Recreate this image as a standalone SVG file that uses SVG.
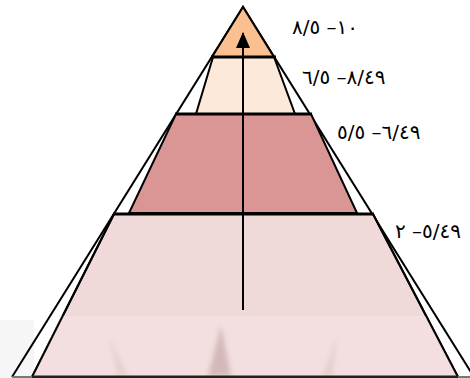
<svg xmlns="http://www.w3.org/2000/svg" width="470" height="378" viewBox="0 0 470 378">
<style>
.edge{stroke:#000;stroke-width:2;stroke-linejoin:miter}
.hline{stroke:#000;stroke-width:3}
.lbl{font-family:"DejaVu Sans",sans-serif;font-size:20px;fill:#000;direction:ltr;unicode-bidi:bidi-override}
</style>
<defs>
<filter id="blur" x="-50%" y="-50%" width="200%" height="200%"><feGaussianBlur stdDeviation="2.5"/></filter>
<marker id="ah" viewBox="0 0 16 14" refX="15" refY="7" markerWidth="16" markerHeight="14" markerUnits="userSpaceOnUse" orient="auto"><polygon points="0,0 16,7 0,14" fill="#000"/></marker>
</defs>
<rect width="470" height="378" fill="#fff"/>
<rect x="0" y="320" width="34" height="58" fill="#f6f6f6"/>
<g id="outline">
<polyline points="12,377 243,7 474,377" fill="none" class="edge"/>
</g>
<g id="layer-bottom">
<polygon points="114,214 373,214 458,377 32,377" fill="#f0d9d9" class="edge"/>
<polygon points="61,316 426,316 458,376 32,376" fill="#f3dfdf"/>
<g filter="url(#blur)" opacity="0.55">
<path d="M221,325 L231,376 L208,376 Z" fill="#b89a9c"/>
<path d="M108,335 L128,376 L118,376 Z" fill="#c9b0b2" opacity="0.6"/>
<path d="M338,335 L322,376 L332,376 Z" fill="#c9b0b2" opacity="0.6"/>
</g>
<line x1="114" y1="214" x2="32" y2="377" class="edge"/>
<line x1="373" y1="214" x2="458" y2="377" class="edge"/>
</g>
<g id="layer-3">
<polygon points="176,114 311,114 357,213 129,213" fill="#d99694" class="edge"/>
</g>
<g id="layer-2">
<polygon points="213,57 274,57 295,114 196,114" fill="#fde9d9" class="edge"/>
</g>
<g id="layer-top">
<polygon points="243,7 212,57 274,57" fill="#fac090" class="edge"/>
</g>
<g id="separators">
<line x1="211" y1="57" x2="276" y2="57" class="hline"/>
<line x1="175" y1="114" x2="312" y2="114" class="hline"/>
<line x1="113" y1="214" x2="374" y2="214" class="hline"/>
<line x1="12" y1="377" x2="32" y2="377" stroke="#777" stroke-width="2"/>
<line x1="32" y1="377" x2="458" y2="377" stroke="#222" stroke-width="3"/>
<line x1="458" y1="377" x2="470" y2="377" stroke="#777" stroke-width="2"/>
</g>
<g id="connectors">
<line x1="243" y1="310" x2="243" y2="33" stroke="#000" stroke-width="2" marker-end="url(#ah)"/>
</g>
<g id="labels">
<text class="lbl" x="292" y="34">٨/٥ –١٠</text>
<text class="lbl" x="302" y="84">٦/٥ –٨/٤٩</text>
<text class="lbl" x="337" y="139">٥/٥ –٦/٤٩</text>
<text class="lbl" x="395" y="238">٢ –٥/٤٩</text>
</g>
</svg>
